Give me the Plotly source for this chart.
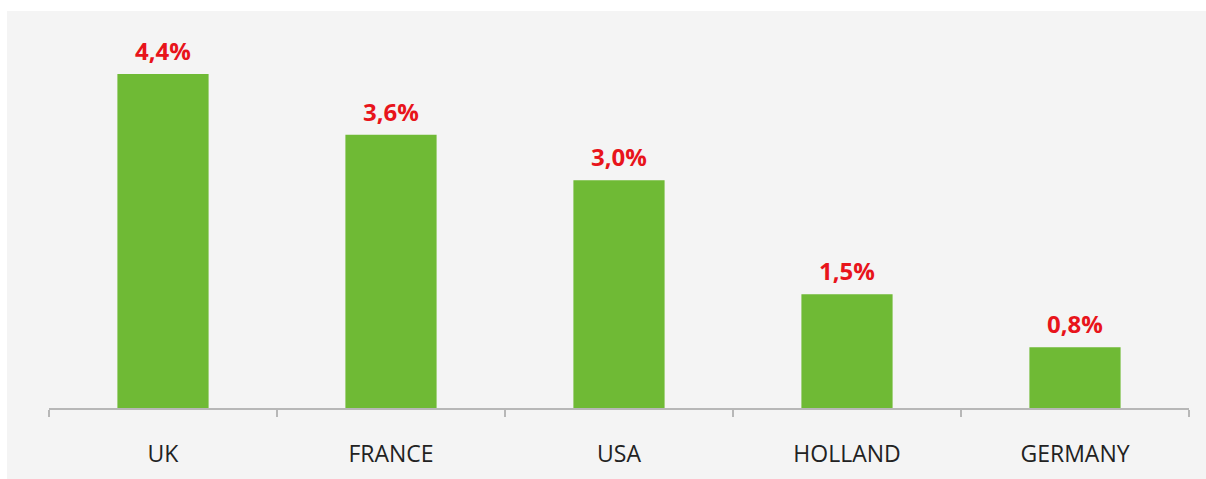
import plotly.graph_objects as go

countries = ['UK', 'FRANCE', 'USA', 'HOLLAND', 'GERMANY']
growth = [4.4, 3.6, 3.0, 1.5, 0.8]
labels = ['4,4%', '3,6%', '3,0%', '1,5%', '0,8%']

GREEN = '#6fba35'
RED = '#e8141b'
PANEL = '#f4f4f4'

W, H = 1206, 479
L, R, T, B = 49, 17, 11, 71


def generate_figure():
    fig = go.Figure(go.Bar(
        x=countries,
        y=growth,
        marker=dict(color=GREEN, line=dict(width=0)),
        width=0.4,
        hoverinfo='skip',
    ))

    # value labels above bars
    for c, v, t in zip(countries, growth, labels):
        fig.add_annotation(
            x=c, y=v, text=t, showarrow=False,
            yanchor='bottom', yshift=5,
            font=dict(family='Open Sans', size=24, color=RED, weight='bold'),
        )

    # white border on the left and top of the grey panel
    pw, ph = W - L - R, H - T - B
    fig.add_shape(
        type='rect', xref='paper', yref='paper', layer='below',
        x0=-(L + 2) / pw, x1=-(L - 7) / pw, y0=-(B + 2) / ph, y1=1 + (T + 2) / ph,
        fillcolor='white', line=dict(width=0),
    )
    fig.add_shape(
        type='rect', xref='paper', yref='paper', layer='below',
        x0=-(L + 2) / pw, x1=1 + (R + 2) / pw, y0=1.0, y1=1 + (T + 2) / ph,
        fillcolor='white', line=dict(width=0),
    )

    fig.update_xaxes(
        showline=True, linecolor='#b7b7b7', linewidth=1.5,
        ticks='outside', tickson='boundaries', ticklen=7,
        tickcolor='#b7b7b7', tickwidth=1.5,
        ticklabelstandoff=25,
        tickfont=dict(family='Open Sans', size=23, color='#222222'),
        showgrid=False, fixedrange=True,
    )
    fig.update_yaxes(visible=False, range=[0, 5.23], fixedrange=True)
    fig.update_layout(
        width=W, height=H,
        margin=dict(l=L, r=R, t=T, b=B),
        paper_bgcolor=PANEL,
        plot_bgcolor='rgba(0,0,0,0)',
        showlegend=False,
    )
    return fig


def main():
    fig = generate_figure()
    # drop the default page margin so the figure fills the window
    fig.write_html(
        'out.html',
        config={'displayModeBar': False},
        post_script="document.body.style.margin='0';document.body.style.overflow='hidden';",
    )


if __name__ == '__main__':
    main()
